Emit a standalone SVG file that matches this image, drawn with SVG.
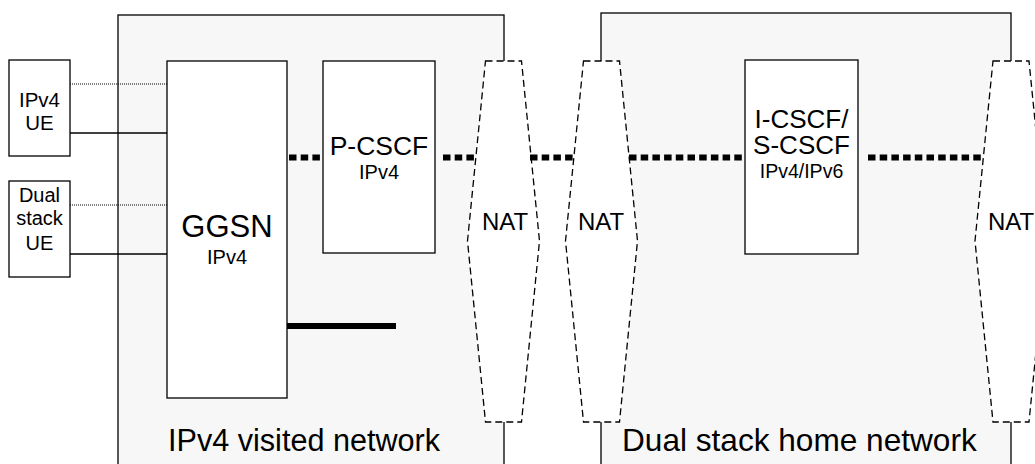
<svg xmlns="http://www.w3.org/2000/svg" width="1035" height="464" viewBox="0 0 1035 464">
<style>
text{font-family:"Liberation Sans",Arial,sans-serif;fill:#000}
.net{fill:#f7f7f7;stroke:#000;stroke-width:1.3}
.box{fill:#fff;stroke:#000;stroke-width:1.3}
.nat{fill:#fff;stroke:#000;stroke-width:1.3;stroke-dasharray:7 4}
.sig{stroke:#000;stroke-width:6;stroke-dasharray:7.5 4.2;fill:none}
.thin{stroke:#000;stroke-width:1.3;fill:none}
.dot{stroke:#000;stroke-width:1.2;stroke-dasharray:1 1;fill:none}
.m{text-anchor:middle}
</style>
<g id="visited-network">
<rect class="net" x="118" y="15" width="386" height="470"/>
<text x="168" y="451" font-size="30.6">IPv4 visited network</text>
</g>
<g id="home-network">
<rect class="net" x="601" y="13" width="410" height="470"/>
<text x="622" y="451" font-size="31.6">Dual stack home network</text>
</g>
<g id="nat1">
<polygon class="nat" points="485.5,61 521.5,61 539.5,241 521.5,422 485.5,422 467.5,241"/>
<text x="482" y="230" font-size="24">NAT</text>
</g>
<g id="nat2">
<polygon class="nat" points="583.5,61 619.5,61 637.5,241 619.5,422 583.5,422 565.5,241"/>
<text x="578" y="230" font-size="24">NAT</text>
</g>
<g id="nat3">
<polygon class="nat" points="993,61 1029,61 1047,241 1029,422 993,422 975,241"/>
<text x="988" y="230" font-size="24">NAT</text>
</g>
<g id="ipv4-ue">
<rect class="box" x="9" y="60" width="61" height="96"/>
<text class="m" x="39.5" y="107" font-size="20.5">IPv4</text>
<text class="m" x="39.5" y="130" font-size="20.5">UE</text>
</g>
<g id="dual-stack-ue">
<rect class="box" x="9" y="181" width="61" height="96"/>
<text class="m" x="39.5" y="202" font-size="20">Dual</text>
<text class="m" x="39.5" y="225" font-size="20">stack</text>
<text class="m" x="39.5" y="250" font-size="20">UE</text>
</g>
<g id="ggsn">
<rect class="box" x="167" y="61" width="120" height="337"/>
<text class="m" x="227" y="237" font-size="31">GGSN</text>
<text class="m" x="227" y="264" font-size="20">IPv4</text>
</g>
<g id="p-cscf">
<rect class="box" x="323" y="61" width="112" height="192"/>
<text class="m" x="379" y="155" font-size="26.5">P-CSCF</text>
<text class="m" x="379" y="179" font-size="20">IPv4</text>
</g>
<g id="i-s-cscf">
<rect class="box" x="745" y="60" width="113" height="194"/>
<text class="m" x="801.5" y="128" font-size="26">I-CSCF/</text>
<text class="m" x="801.5" y="154" font-size="26">S-CSCF</text>
<text class="m" x="801.5" y="178" font-size="19.5">IPv4/IPv6</text>
</g>
<g id="connectors">
<line class="dot" x1="70" y1="84" x2="167" y2="84"/>
<line class="thin" x1="70" y1="133" x2="167" y2="133"/>
<line class="dot" x1="70" y1="205" x2="167" y2="205"/>
<line class="thin" x1="70" y1="254" x2="167" y2="254"/>
<line class="sig" x1="289" y1="157.5" x2="323" y2="157.5"/>
<line class="sig" x1="443" y1="157.5" x2="476" y2="157.5"/>
<line class="sig" x1="530" y1="157.5" x2="574" y2="157.5"/>
<line class="sig" x1="629" y1="157.5" x2="745" y2="157.5"/>
<line class="sig" x1="868" y1="157.5" x2="984" y2="157.5"/>
<line x1="287" y1="326" x2="396" y2="326" stroke="#000" stroke-width="6"/>
</g>
</svg>
